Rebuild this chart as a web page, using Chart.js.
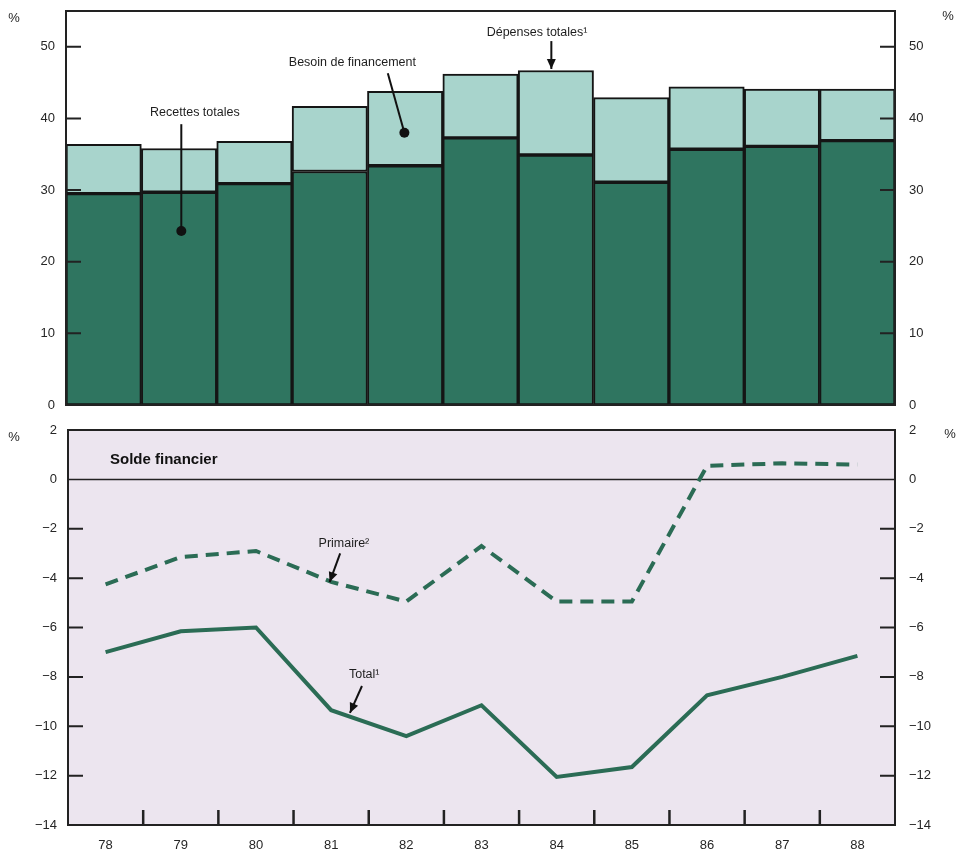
<!DOCTYPE html>
<html>
<head>
<meta charset="utf-8">
<script src="https://cdn.jsdelivr.net/npm/chart.js@4.4.0/dist/chart.umd.min.js"></script>
<style>
body{margin:0;background:#fff;}
#top{position:absolute;left:0;top:0;}
#bottom{position:absolute;left:0;top:420px;}
</style>
</head>
<body>
<canvas id="top" width="969" height="420"></canvas>
<canvas id="bottom" width="969" height="434"></canvas>
<script>
// values (% of GDP)
const years = ['78','79','80','81','82','83','84','85','86','87','88'];
const recettes = [29.5, 29.7, 30.9, 32.6, 33.4, 37.3, 34.9, 31.1, 35.7, 36.1, 36.9];
const besoin = [6.9, 6.1, 5.9, 9.1, 10.4, 8.9, 11.8, 11.8, 8.7, 8.0, 7.2];
const soldeTotal = [-7.0, -6.15, -6.0, -9.35, -10.4, -9.15, -12.05, -11.65, -8.75, -8.0, -7.15];
const soldePrimaire = [-4.25, -3.15, -2.9, -4.15, -4.95, -2.7, -4.95, -4.95, 0.55, 0.65, 0.6];
const topTicks = [0, 10, 20, 30, 40, 50];
const bottomTicks = [2, 0, -2, -4, -6, -8, -10, -12, -14];

const FONT = "'Liberation Sans', Arial, sans-serif";
const INK = '#222';
const TXT = '#262626';
const DARK = '#2f7560';
const LIGHT = '#a8d4cc';
const LINE = '#2b6c55';

Chart.defaults.font.family = FONT;
Chart.defaults.font.size = 13;
Chart.defaults.color = TXT;
Chart.defaults.animation = false;

function minus(v){ return v < 0 ? '\u2212' + Math.abs(v) : String(v); }

// draws the frame, inner tick marks, notes
const frame = {
    id: 'frame',
    beforeDatasetsDraw(chart, args, o){
        const a = chart.chartArea, ctx = chart.ctx;
        ctx.save();
        if(o.bg){
            ctx.fillStyle = o.bg;
            ctx.fillRect(a.left, a.top, a.right - a.left, a.bottom - a.top);
        }
        if(o.zero){
            const y0 = chart.scales.y.getPixelForValue(0);
            ctx.strokeStyle = INK; ctx.lineWidth = 1.5;
            ctx.beginPath(); ctx.moveTo(a.left, y0); ctx.lineTo(a.right, y0); ctx.stroke();
        }
        ctx.restore();
    },
    afterDatasetsDraw(chart, args, o){
        const a = chart.chartArea, ctx = chart.ctx;
        const xs = chart.scales.x, ys = chart.scales.y;
        ctx.save();
        ctx.strokeStyle = INK;
        ctx.lineWidth = 2;
        ctx.strokeRect(a.left, a.top, a.right - a.left, a.bottom - a.top);
        // y ticks inside the box, both sides
        o.yTicks.forEach(v => {
            const y = ys.getPixelForValue(v);
            if(Math.abs(y - a.top) < 3 || Math.abs(y - a.bottom) < 3 || v === 0) return;
            ctx.beginPath();
            ctx.moveTo(a.left, y); ctx.lineTo(a.left + 15, y);
            ctx.moveTo(a.right - 15, y); ctx.lineTo(a.right, y);
            ctx.stroke();
        });
        // x ticks between years
        if(o.xTicks){
            ctx.lineWidth = 2.5;
            for(let i = 0; i < years.length - 1; i++){
                const x = xs.getPixelForValue(i + 0.5);
                ctx.beginPath(); ctx.moveTo(x, a.bottom); ctx.lineTo(x, a.bottom - 15); ctx.stroke();
            }
        }
        // % signs
        ctx.fillStyle = TXT;
        ctx.font = '13px ' + FONT;
        ctx.textBaseline = 'middle';
        ctx.textAlign = 'center';
        o.pct.forEach(p => ctx.fillText('%', p[0], p[1]));
        // notes
        o.notes.forEach(n => {
            ctx.font = (n.bold ? 'bold 15px ' : '12.5px ') + FONT;
            ctx.fillStyle = n.bold ? '#111' : '#1e1e1e';
            ctx.textAlign = n.bold ? 'left' : 'center';
            const tx = n.px != null ? a.left + n.px : xs.getPixelForValue(n.t[0]);
            const ty = n.py != null ? a.top + n.py : ys.getPixelForValue(n.t[1]);
            ctx.fillText(n.text, tx, ty);
            if(!n.from) return;
            const x1 = xs.getPixelForValue(n.from[0]), y1 = ys.getPixelForValue(n.from[1]);
            const x2 = xs.getPixelForValue(n.to[0]), y2 = ys.getPixelForValue(n.to[1]);
            ctx.strokeStyle = '#111'; ctx.lineWidth = 2;
            ctx.beginPath(); ctx.moveTo(x1, y1); ctx.lineTo(x2, y2); ctx.stroke();
            ctx.fillStyle = '#111';
            if(n.end === 'dot'){
                ctx.beginPath(); ctx.arc(x2, y2, 5, 0, Math.PI * 2); ctx.fill();
            } else {
                const ang = Math.atan2(y2 - y1, x2 - x1);
                ctx.beginPath();
                ctx.moveTo(x2, y2);
                ctx.lineTo(x2 - 10 * Math.cos(ang) + 4.5 * Math.sin(ang), y2 - 10 * Math.sin(ang) - 4.5 * Math.cos(ang));
                ctx.lineTo(x2 - 10 * Math.cos(ang) - 4.5 * Math.sin(ang), y2 - 10 * Math.sin(ang) + 4.5 * Math.cos(ang));
                ctx.closePath(); ctx.fill();
            }
        });
        ctx.restore();
    }
};

function yAxis(pos, width, ticksList, min, max){
    return {
        position: pos,
        min: min, max: max,
        grid: {display: false, drawTicks: false},
        border: {display: false},
        afterBuildTicks: s => { s.ticks = ticksList.map(v => ({value: v})); },
        afterFit: s => { s.width = width; s.paddingTop = 0; s.paddingBottom = 0; },
        ticks: {
            padding: pos === 'left' ? 11 : 14,
            color: TXT,
            callback: v => minus(v)
        }
    };
}

// top: recettes + besoin de financement = dépenses totales
new Chart(document.getElementById('top'), {
    type: 'bar',
    data: {
        labels: years,
        datasets: [
            {label: 'Recettes totales', data: recettes, backgroundColor: DARK,
             borderColor: '#151515', borderWidth: 2, borderSkipped: false,
             categoryPercentage: 1, barPercentage: 1},
            {label: 'Besoin de financement', data: besoin, backgroundColor: LIGHT,
             borderColor: '#151515', borderWidth: 2, borderSkipped: false,
             categoryPercentage: 1, barPercentage: 1}
        ]
    },
    options: {
        responsive: false,
        layout: {padding: {top: 11, bottom: 15, left: 0, right: 0}},
        plugins: {
            legend: {display: false},
            tooltip: {enabled: false},
            frame: {
                yTicks: topTicks,
                pct: [[14, 18], [948, 16]],
                notes: [
                    {text: 'Recettes totales', t: [1.21, 40.8], from: [1.03, 39.2], to: [1.03, 24.3], end: 'dot'},
                    {text: 'Besoin de financement', t: [3.30, 47.8], from: [3.77, 46.3], to: [3.99, 38.0], end: 'dot'},
                    {text: 'Dépenses totales\u00b9', t: [5.75, 52.0], from: [5.94, 50.8], to: [5.94, 46.9], end: 'arrow'}
                ]
            }
        },
        scales: {
            x: {stacked: true, display: false, offset: true},
            y: Object.assign(yAxis('left', 66, topTicks, 0, 55), {stacked: true}),
            y2: yAxis('right', 74, topTicks, 0, 55)
        }
    },
    plugins: [frame]
});

// bottom: solde financier
new Chart(document.getElementById('bottom'), {
    type: 'line',
    data: {
        labels: years,
        datasets: [
            {label: 'Primaire', data: soldePrimaire, borderColor: LINE, borderWidth: 4,
             borderDash: [13, 8], pointRadius: 0, tension: 0, fill: false},
            {label: 'Total', data: soldeTotal, borderColor: LINE, borderWidth: 4,
             pointRadius: 0, tension: 0, fill: false}
        ]
    },
    options: {
        responsive: false,
        layout: {padding: {top: 10, bottom: 0, left: 0, right: 0}},
        plugins: {
            legend: {display: false},
            tooltip: {enabled: false},
            frame: {
                bg: '#ece5ef',
                zero: true,
                xTicks: true,
                yTicks: bottomTicks,
                pct: [[14, 17], [950, 14]],
                notes: [
                    {text: 'Solde financier', bold: true, px: 42, py: 30},
                    {text: 'Primaire\u00b2', t: [3.17, -2.58], from: [3.12, -3.0], to: [2.98, -4.16], end: 'arrow'},
                    {text: 'Total\u00b9', t: [3.44, -7.92], from: [3.41, -8.37], to: [3.25, -9.46], end: 'arrow'}
                ]
            }
        },
        scales: {
            x: {
                offset: true,
                grid: {display: false, drawTicks: false},
                border: {display: false},
                afterFit: s => { s.height = 29; s.paddingLeft = 0; s.paddingRight = 0; },
                ticks: {padding: 13, color: TXT, maxRotation: 0}
            },
            y: yAxis('left', 68, bottomTicks, -14, 2),
            y2: yAxis('right', 74, bottomTicks, -14, 2)
        }
    },
    plugins: [frame]
});
</script>
</body>
</html>
